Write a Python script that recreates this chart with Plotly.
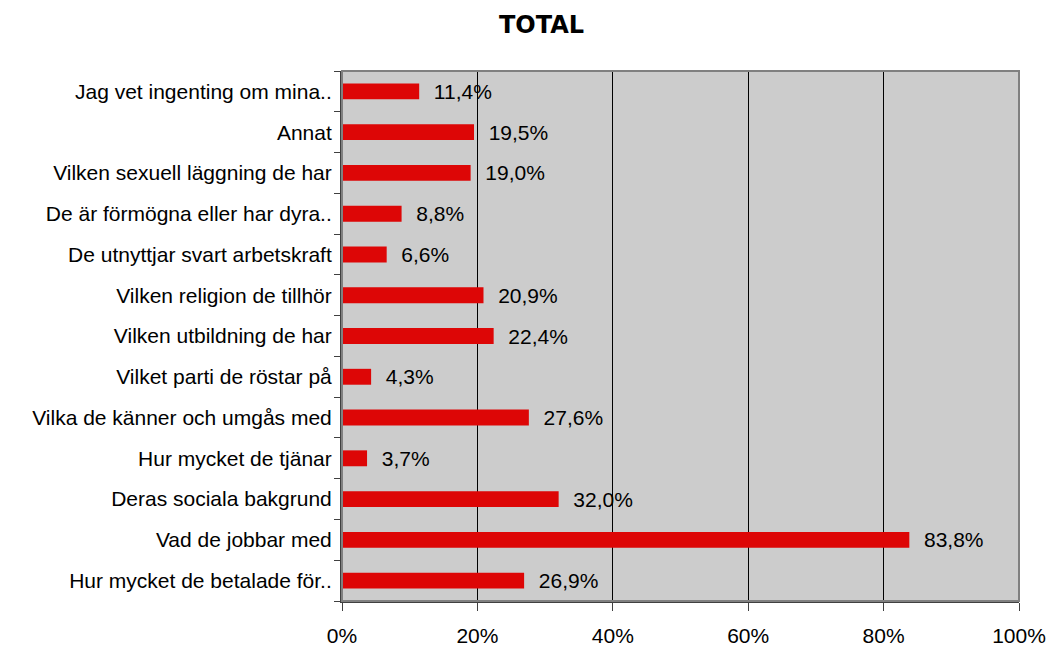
import plotly.graph_objects as go

categories = [
    "Hur mycket de betalade för..",
    "Vad de jobbar med",
    "Deras sociala bakgrund",
    "Hur mycket de tjänar",
    "Vilka de känner och umgås med",
    "Vilket parti de röstar på",
    "Vilken utbildning de har",
    "Vilken religion de tillhör",
    "De utnyttjar svart arbetskraft",
    "De är förmögna eller har dyra..",
    "Vilken sexuell läggning de har",
    "Annat",
    "Jag vet ingenting om mina..",
]
values = [26.9, 83.8, 32.0, 3.7, 27.6, 4.3, 22.4, 20.9, 6.6, 8.8, 19.0, 19.5, 11.4]
labels = ["  " + f"{v:.1f}%".replace(".", ",") for v in values]
xticks = [0, 20, 40, 60, 80, 100]
xticklabels = [f"{t}%" for t in xticks]

# page body has an 8px margin: figure occupies x 8..1055, y 8..649
W, H = 1047, 641

fig = go.Figure(go.Bar(
    y=categories, x=values, orientation="h",
    marker=dict(color="#DD0606", line=dict(width=0)),
    width=0.39,
    text=labels, textposition="outside", cliponaxis=False, constraintext="none",
    textfont=dict(family="Liberation Sans, Arial", size=21, color="#000000"),
))

fig.update_layout(
    width=W, height=H,
    margin=dict(l=334, r=36, t=63, b=48, autoexpand=False),
    paper_bgcolor="white", plot_bgcolor="#CCCCCC",
    showlegend=False,
    title=dict(text="<b>TOTAL</b>", x=(541.5 - 8) / W, xanchor="center",
               y=1 - (25 - 8) / H, yanchor="middle",
               font=dict(family="DejaVu Sans, Verdana", size=24, color="#000000")),
    shapes=[dict(type="rect", xref="paper", yref="paper", x0=0, x1=1, y0=0, y1=1,
                 line=dict(color="#808080", width=2), fillcolor="rgba(0,0,0,0)", layer="above")],
)
fig.update_xaxes(
    range=[0, 100], tickvals=xticks, ticktext=xticklabels, automargin=False,
    showgrid=True, gridcolor="#000000", gridwidth=1,
    zeroline=False, showline=True, linecolor="#404040", linewidth=2,
    ticks="outside", ticklen=8, tickcolor="#404040", ticklabelstandoff=7,
    tickfont=dict(family="Liberation Sans, Arial", size=21, color="#000000"),
    fixedrange=True,
)
fig.update_yaxes(
    categoryorder="array", categoryarray=categories, automargin=False,
    showgrid=False, zeroline=False, showline=True, linecolor="#404040", linewidth=2,
    ticks="outside", ticklen=6, tickcolor="#404040", tickson="boundaries",
    ticklabelstandoff=4,
    tickfont=dict(family="Liberation Sans, Arial", size=21, color="#000000"),
    fixedrange=True,
)

fig.write_html("out.html")
